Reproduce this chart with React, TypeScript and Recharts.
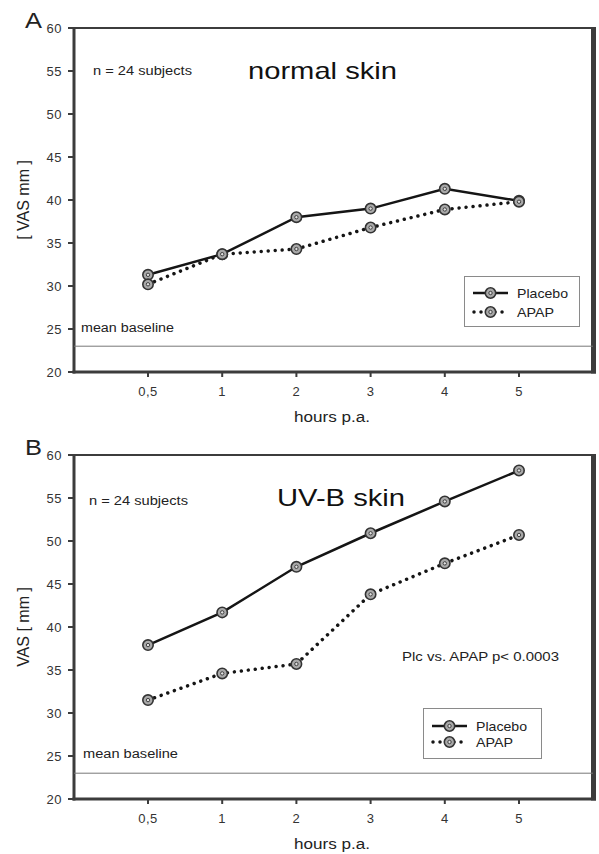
import React from 'react';
import {
  LineChart,
  Line,
  XAxis,
  YAxis,
  ReferenceLine,
  Legend,
  Customized,
} from 'recharts';

const hours = ['0,5', '1', '2', '3', '4', '5'];
const normalPlacebo = [31.3, 33.7, 38.0, 39.0, 41.3, 39.9];
const normalApap = [30.2, 33.7, 34.3, 36.8, 38.9, 39.8];
const uvbPlacebo = [37.9, 41.7, 47.0, 50.9, 54.6, 58.2];
const uvbApap = [31.5, 34.6, 35.7, 43.8, 47.4, 50.7];
const yTicks = [20, 25, 30, 35, 40, 45, 50, 55, 60];
const meanBaseline = 23;
const seriesNames = ['Placebo', 'APAP'];

const FONT = '"Liberation Sans", Arial, Helvetica, sans-serif';
const INK = '#151515';
const FRAME = '#3c3c3c';

const W = 599;
const H = 427;
const M = { top: 28, right: 6, bottom: 25, left: 0 };
const Y_AXIS_W = 74;
const X_AXIS_H = 30;
const PLOT = {
  left: M.left + Y_AXIS_W,
  top: M.top,
  right: W - M.right,
  bottom: H - M.bottom - X_AXIS_H,
};

const Marker = (props: any) => {
  const { cx, cy, index } = props;
  if (cx == null || cy == null) return null;
  return (
    <g key={`m-${index}`}>
      <circle cx={cx} cy={cy} r={5.2} fill="#a9a9a9" stroke="#333" strokeWidth={1.6} />
      <circle cx={cx} cy={cy} r={1.7} fill="#e0e0e0" stroke="#333" strokeWidth={0.9} />
    </g>
  );
};

const LegendBox = ({ w, h, rows }: { w: number; h: number; rows: number[] }) => (
  <svg width={w} height={h} style={{ display: 'block' }}>
    <rect x={0.5} y={0.5} width={w - 1} height={h - 1} fill="#fff" stroke="#8a8a8a" strokeWidth={1} />
    <line x1={9} y1={rows[0]} x2={44} y2={rows[0]} stroke={INK} strokeWidth={2.5} />
    <Marker cx={26.5} cy={rows[0]} index={0} />
    <text x={53} y={rows[0] + 5} fontSize={13} fontFamily={FONT} fill="#222" textLength={51} lengthAdjust="spacingAndGlyphs">
      {seriesNames[0]}
    </text>
    <line x1={10} y1={rows[1]} x2={44} y2={rows[1]} stroke={INK} strokeWidth={3.5} strokeDasharray="0.01 7" strokeLinecap="round" />
    <Marker cx={26.5} cy={rows[1]} index={1} />
    <text x={53} y={rows[1] + 5} fontSize={13} fontFamily={FONT} fill="#222" textLength={37} lengthAdjust="spacingAndGlyphs">
      {seriesNames[1]}
    </text>
  </svg>
);

type PanelProps = {
  letter: string;
  title: string;
  titleX: number;
  titleLen: number;
  yLabel: string;
  placebo: number[];
  apap: number[];
  nX: number;
  nY: number;
  baseX: number;
  baseY: number;
  baseLen: number;
  legendLeft: number;
  legendTop: number;
  legendW: number;
  legendRows: number[];
  note?: string;
};

const Panel = (p: PanelProps) => {
  const data = hours.map((t, i) => ({ t, placebo: p.placebo[i], apap: p.apap[i] }));
  const annotations = () => (
    <g fontFamily={FONT} fill="#222">
      <path d={`M${PLOT.left},${PLOT.top}H${PLOT.right}`} fill="none" stroke={FRAME} strokeWidth={2} />
      <path d={`M${PLOT.left},${PLOT.top - 1}V${PLOT.bottom + 1.5}`} fill="none" stroke={FRAME} strokeWidth={3} />
      <path d={`M${PLOT.left - 1.5},${PLOT.bottom}H${PLOT.right + 3}`} fill="none" stroke={FRAME} strokeWidth={3} />
      <path d={`M${PLOT.right + 0.5},${PLOT.top - 1}V${PLOT.bottom + 1.5}`} fill="none" stroke={FRAME} strokeWidth={5} />
      <text x={25} y={28} fontSize={22} textLength={17} lengthAdjust="spacingAndGlyphs">{p.letter}</text>
      <text x={p.nX} y={p.nY} fontSize={12} textLength={99} lengthAdjust="spacingAndGlyphs">n = 24 subjects</text>
      <text x={p.titleX} y={79} fontSize={24} fill="#111" textLength={p.titleLen} lengthAdjust="spacingAndGlyphs">{p.title}</text>
      <text x={p.baseX} y={p.baseY} fontSize={12} textLength={p.baseLen} lengthAdjust="spacingAndGlyphs">mean baseline</text>
      <text x={294} y={422} fontSize={14} textLength={76} lengthAdjust="spacingAndGlyphs">hours p.a.</text>
      <text x={23} y={200} fontSize={16} textAnchor="middle" dominantBaseline="central" transform="rotate(-90 23 200)">{p.yLabel}</text>
      {p.note ? (
        <text x={402} y={234} fontSize={12} textLength={157} lengthAdjust="spacingAndGlyphs">{p.note}</text>
      ) : null}
    </g>
  );
  return (
    <LineChart width={W} height={H} data={data} margin={M}>
      <XAxis
        dataKey="t"
        padding={{ left: 74, right: 74 }}
        height={X_AXIS_H}
        stroke={FRAME}
        tickSize={5}
        tickMargin={10}
        axisLine={false}
        tickLine={{ stroke: FRAME, strokeWidth: 2 }}
        tick={{ fontSize: 13, fill: '#333', fontFamily: FONT, letterSpacing: 0.5 }}
      />
      <YAxis
        domain={[20, 60]}
        ticks={yTicks}
        width={Y_AXIS_W}
        stroke={FRAME}
        tickSize={6}
        tickMargin={6}
        interval={0}
        axisLine={false}
        tickLine={{ stroke: FRAME, strokeWidth: 2 }}
        tick={{ fontSize: 13, fill: '#333', fontFamily: FONT, letterSpacing: 0.5 }}
      />
      <ReferenceLine y={meanBaseline} stroke="#777" strokeWidth={1} />
      <Line
        dataKey="placebo"
        name={seriesNames[0]}
        stroke={INK}
        strokeWidth={2.5}
        dot={Marker}
        activeDot={false}
        isAnimationActive={false}
      />
      <Line
        dataKey="apap"
        name={seriesNames[1]}
        stroke={INK}
        strokeWidth={3.5}
        strokeDasharray="0.01 7"
        strokeLinecap="round"
        dot={Marker}
        activeDot={false}
        isAnimationActive={false}
      />
      <Legend
        layout="horizontal"
        verticalAlign="middle"
        align="center"
        wrapperStyle={{ left: p.legendLeft, top: p.legendTop, width: p.legendW, height: 51 }}
        content={() => <LegendBox w={p.legendW} h={51} rows={p.legendRows} />}
      />
      <Customized component={annotations} />
    </LineChart>
  );
};

export default function App() {
  return (
    <div style={{ position: 'absolute', left: 0, top: 0, width: W, height: 854, background: '#fff' }}>
      <Panel
        letter="A"
        title="normal skin"
        titleX={248}
        titleLen={149}
        yLabel="[ VAS mm ]"
        placebo={normalPlacebo}
        apap={normalApap}
        nX={93}
        nY={75}
        baseX={81}
        baseY={332}
        baseLen={93}
        legendLeft={464}
        legendTop={276}
        legendW={116}
        legendRows={[17, 36]}
      />
      <Panel
        letter="B"
        title="UV-B skin"
        titleX={277}
        titleLen={128}
        yLabel="VAS [ mm ]"
        placebo={uvbPlacebo}
        apap={uvbApap}
        nX={89}
        nY={78}
        baseX={83}
        baseY={331}
        baseLen={95}
        legendLeft={423}
        legendTop={281}
        legendW={119}
        legendRows={[18, 34]}
        note="Plc vs. APAP  p< 0.0003"
      />
    </div>
  );
}
